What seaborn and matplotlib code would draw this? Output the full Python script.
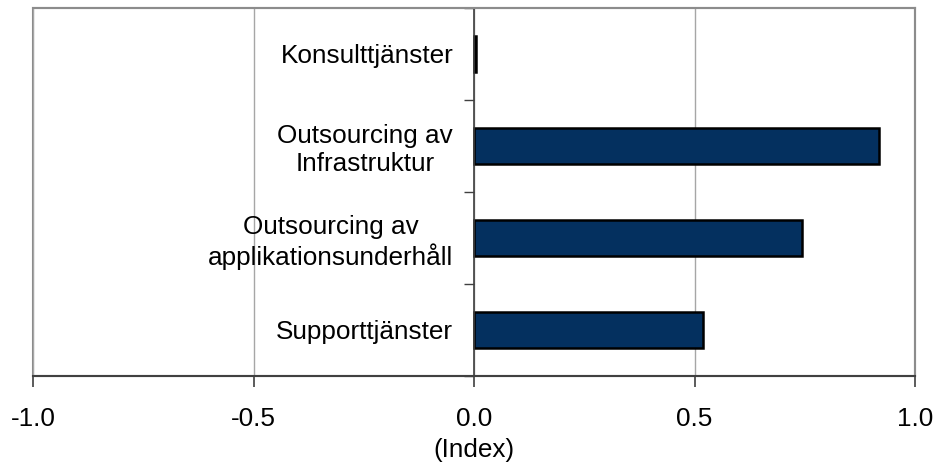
import numpy as np
import pandas as pd
import matplotlib
matplotlib.use("Agg")
import matplotlib.pyplot as plt
import seaborn as sns
from matplotlib.ticker import FixedLocator

# Data
categories = [
    "Konsulttjänster",
    "Outsourcing av\nInfrastruktur",
    "Outsourcing av\napplikationsunderhåll",
    "Supporttjänster",
]
values = [0.004, 0.918, 0.744, 0.519]
x_ticks = [-1.0, -0.5, 0.0, 0.5, 1.0]
x_label = "(Index)"

df = pd.DataFrame({"Category": categories, "Index": values})

sns.set_style("white")
plt.rcParams["font.family"] = ["Liberation Sans", "DejaVu Sans"]
plt.rcParams["text.color"] = "black"
plt.rcParams["axes.labelcolor"] = "black"
plt.rcParams["xtick.labelcolor"] = "black"
plt.rcParams["ytick.labelcolor"] = "black"

FS = 18.8

fig = plt.figure(figsize=(9.38, 4.70), dpi=100)
ax = fig.add_axes([0.0352, 0.2, 0.9403, 0.783])

sns.barplot(data=df, x="Index", y="Category", orient="h", color="#04305f",
            edgecolor="black", linewidth=1.8, width=0.4, saturation=1, ax=ax)

ax.set_xlim(-1.0, 1.0)
ax.set_ylim(len(categories) - 0.5, -0.5)
ax.set_xticks(x_ticks)
ax.set_xticklabels([f"{t:.1f}" for t in x_ticks], fontsize=FS)
ax.set_xlabel(x_label, fontsize=FS, labelpad=5)
ax.set_ylabel("")

# vertical gridlines
ax.grid(axis="x", color="#a6a6a6", linewidth=1.0)
ax.grid(axis="y", visible=False)
ax.set_axisbelow(True)

# frame in gray, y axis moved to zero
for side in ["top", "right"]:
    ax.spines[side].set_color("#8c8c8c")
    ax.spines[side].set_linewidth(1.5)
ax.spines["bottom"].set_color("#404040")
ax.spines["bottom"].set_linewidth(1.5)
ax.spines["left"].set_position(("data", 0))
ax.spines["left"].set_color("#404040")
ax.spines["left"].set_linewidth(1.2)
ax.patch.set_edgecolor("#8c8c8c")
ax.patch.set_linewidth(1.5)

ax.tick_params(axis="x", direction="out", length=8, width=1.2, color="#404040", pad=14, bottom=True)
ax.tick_params(axis="y", which="major", length=0, pad=15, labelsize=FS)
ax.yaxis.set_minor_locator(FixedLocator(np.arange(-0.5, len(categories), 1.0)))
ax.tick_params(axis="y", which="minor", direction="out", length=7, width=1.0, color="#404040", left=True)
for lbl in ax.get_yticklabels():
    lbl.set_multialignment("center")

fig.savefig("out.png", dpi=100)
